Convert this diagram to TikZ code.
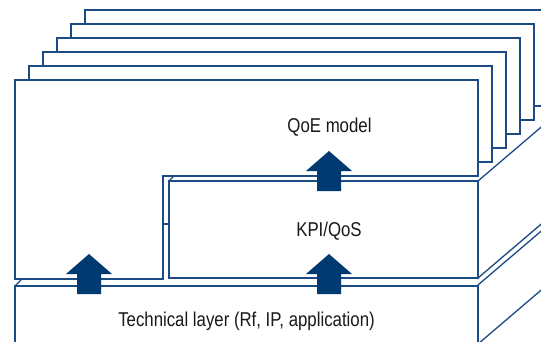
\documentclass[tikz,border=0pt]{standalone}
\usepackage{fontspec}
\setmainfont{Liberation Sans}[FakeStretch=0.84]
\definecolor{navy}{HTML}{1B4A85}
\definecolor{arrowblue}{HTML}{003A70}
\begin{document}
\begin{tikzpicture}[x=1pt,y=-1pt,
  edge/.style={draw=navy,line width=1.3pt,line join=miter},
  face/.style={edge,fill=white},
  lbl/.style={anchor=base,font=\fontsize{20}{24}\selectfont,inner sep=0pt,text=black!90},
  uparrow/.pic={\fill[arrowblue] (0,0) -- (23,20) -- (12,20) -- (12,40) -- (-12,40) -- (-12,20) -- (-23,20) -- cycle;}]
\useasboundingbox (0,0) rectangle (541,341);
\begin{scope}
\clip (0,0) rectangle (541,341);
% stacked back cards
\foreach \k in {5,4,3,2,1} {
  \path[face] ({15+14*\k},{80-14*\k}) rectangle ({478+14*\k},{176-14*\k});
}
% front card (L-shaped)
\path[face] (15,279) -- (15,80) -- (478,80) -- (478,176) -- (163,176) -- (163,279) -- cycle;
% KPI box right face
\path[face] (478,181) -- (560,111) -- (560,208) -- (478,278) -- cycle;
% KPI box front face
\path[face] (169,181) rectangle (478,278);
\draw[edge] (169,181) -- (174,176);
\draw[edge] (163,224) -- (169,224);
% technical slab
\path[face] (478,285) -- (560,215) -- (560,274) -- (478,344) -- cycle;
\path[face] (15,286) rectangle (478,350);
\draw[edge] (15,286) -- (21,280);
\end{scope}
% arrows
\pic at (89,254) {uparrow};
\pic at (329,254) {uparrow};
\pic at (329,151) {uparrow};
% labels
\node[lbl] (qoe) at (329.5,132) {QoE model};
\node[lbl] (kpi) at (329,236) {KPI/QoS};
\node[lbl] (tech) at (246.5,326) {Technical layer (Rf, IP, application)};
\end{tikzpicture}
\end{document}
